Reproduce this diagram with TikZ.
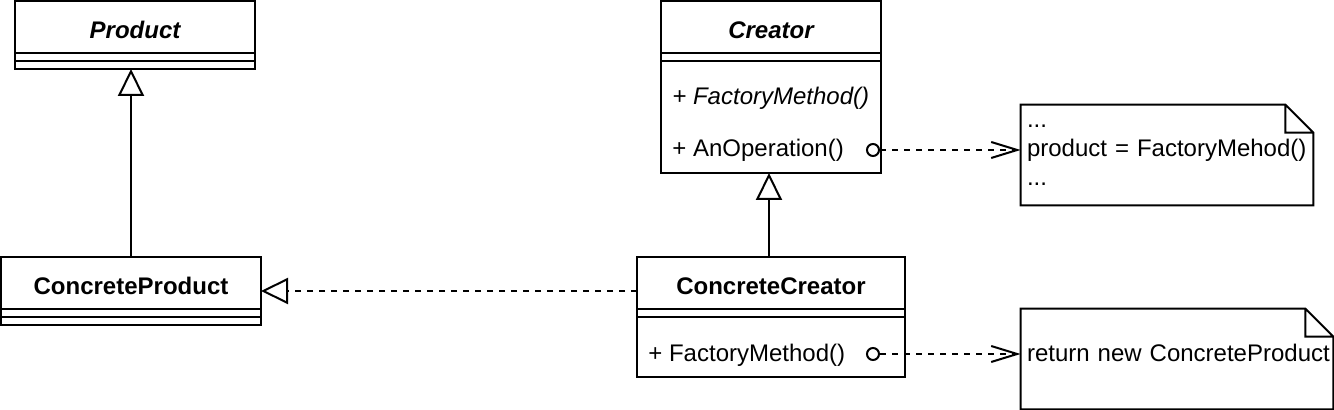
\documentclass[tikz,border=0pt,12pt]{standalone}
\usepackage{fontspec}
\setmainfont{Liberation Sans}
\usepackage{tikz}
\usetikzlibrary{positioning,arrows.meta}
\tikzset{
  classhead/.style={rectangle,draw,line width=1pt,outer sep=0pt,inner sep=0pt,minimum width=#1,minimum height=26pt,text height=11.5pt,text depth=0pt,font=\bfseries},
  abstracthead/.style={classhead=#1,font=\bfseries\itshape},
  compart/.style={rectangle,draw,line width=1pt,outer sep=0pt,inner sep=0pt,minimum width=#1,minimum height=4pt},
  member/.style={anchor=west,inner sep=2pt},
  notebox/.style={rectangle,align=left,inner xsep=3pt,inner ysep=0pt,minimum height=50pt},
  dot/.style={circle,draw,line width=1pt,fill=white,inner sep=0pt,minimum size=6pt},
  inherit/.style={-{Triangle[open,length=13.5pt,width=13pt,fill=white]},line width=1pt},
  realize/.style={inherit,dash pattern=on 3pt off 3pt},
  depend/.style={-{Straight Barb[length=13pt,width=8pt]},line width=1pt,dash pattern=on 3pt off 3pt}
}
\begin{document}
\begin{tikzpicture}[x=0.5pt,y=-0.5pt]
  \useasboundingbox (0,0) rectangle (1334,410);
  % products
  \node[abstracthead=120pt] (product) at (135,27) {Product};
  \node[compart=120pt,below=0pt of product] (product-attr) {};
  \node[compart=120pt,below=0pt of product-attr] (product-ops) {};
  \node[classhead=130pt] (cproduct) at (131,283) {ConcreteProduct};
  \node[compart=130pt,below=0pt of cproduct] (cproduct-attr) {};
  \node[compart=130pt,below=0pt of cproduct-attr] (cproduct-ops) {};
  % creators
  \node[abstracthead=110pt] (creator) at (771,27) {Creator};
  \node[compart=110pt,below=0pt of creator] (creator-attr) {};
  \node[compart=110pt,minimum height=56pt,below=0pt of creator-attr] (creator-ops) {};
  \node[member,font=\itshape] (creator-fm) at (668,98) {+ FactoryMethod()};
  \node[member] (creator-anop) at (668,150) {+ AnOperation()};
  \node[classhead=134pt] (ccreator) at (771,283) {ConcreteCreator};
  \node[compart=134pt,below=0pt of ccreator] (ccreator-attr) {};
  \node[compart=134pt,minimum height=30pt,below=0pt of ccreator-attr] (ccreator-ops) {};
  \node[member] (ccreator-fm) at (644,355) {+ FactoryMethod()};
  % notes
  \node[notebox,text width=140pt] (note1) at (1167,155) {...\\product = FactoryMehod()\\...};
  \node[notebox,text width=150pt,text depth=6pt] (note2) at (1177,359) {\mbox{return new ConcreteProduct}};
  \foreach \n in {note1,note2}
    \draw[line width=1pt] (\n.north west) -- ([xshift=-14pt]\n.north east) -- ([yshift=-14pt]\n.north east)
      -- (\n.south east) -- (\n.south west) -- cycle
      ([xshift=-14pt]\n.north east) |- ([yshift=-14pt]\n.north east);
  \node[dot] (dot1) at (873,150) {};
  \node[dot] (dot2) at (873,354) {};
  % connectors
  \draw[inherit] (cproduct.north) -- (cproduct.north |- product-ops.south);
  \draw[inherit] ([xshift=-1pt]ccreator.north) -- ([xshift=-1pt]creator-ops.south);
  \draw[realize] ([yshift=-4pt]ccreator.west) -- ([yshift=-4pt]cproduct.east);
  \draw[depend] (dot1) -- (dot1 -| note1.west);
  \draw[depend] (dot2) -- (dot2 -| note2.west);
\end{tikzpicture}
\end{document}
